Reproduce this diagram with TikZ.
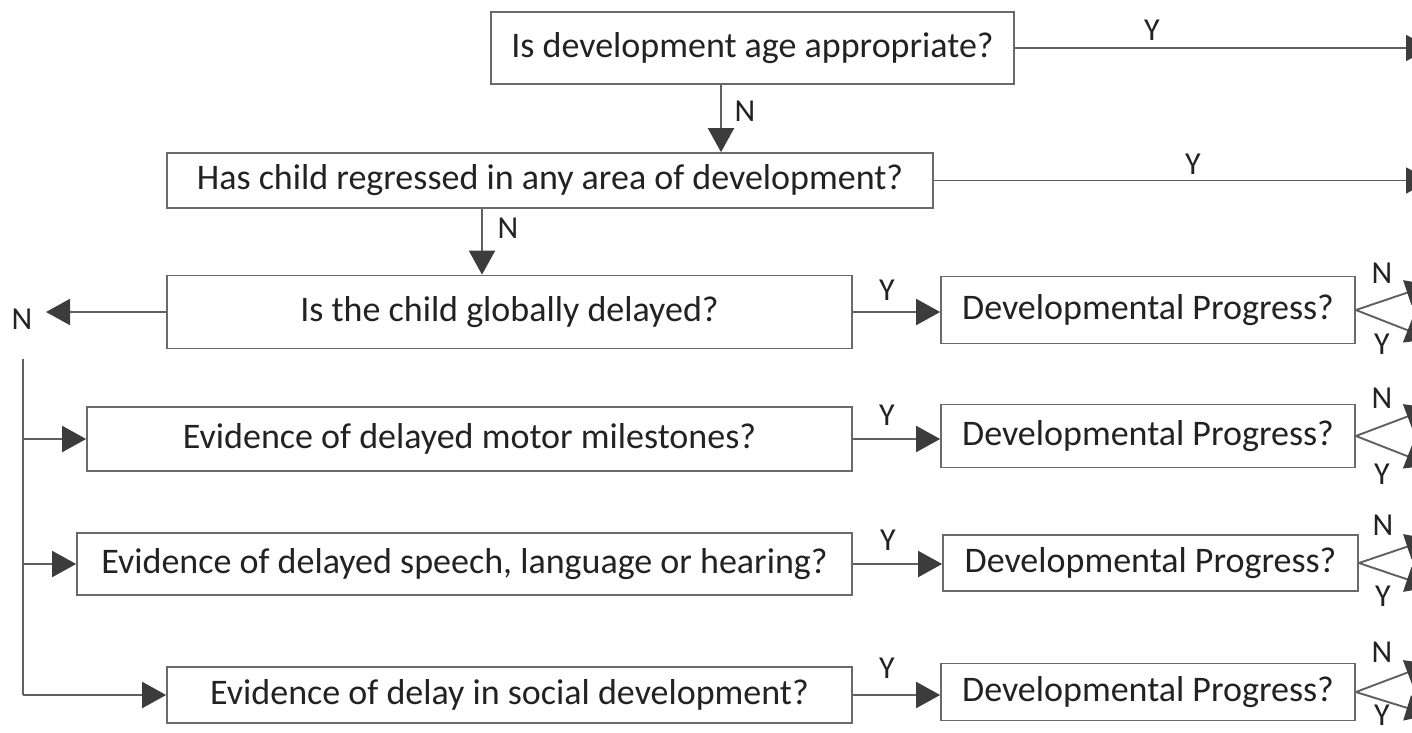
\documentclass[tikz,border=0pt]{standalone}
\usepackage{fontspec}
\setmainfont{Carlito}
\usetikzlibrary{arrows.meta}
\definecolor{boxgray}{HTML}{6A6A6A}
\definecolor{linegray}{HTML}{606060}
\definecolor{tipgray}{HTML}{3C3C3C}
\definecolor{textgray}{HTML}{222222}
\begin{document}
\begin{tikzpicture}[x=1pt,y=-1pt,
  box/.style={draw=boxgray, line width=1.7pt, inner sep=0pt, text=textgray,
    font=\fontsize{36}{40}\selectfont},
  lbl/.style={inner sep=0pt, text=textgray, font=\fontsize{32}{36}\selectfont},
  conn/.style={draw=linegray, line width=1.9pt, -{Triangle[length=24pt,width=26pt,color=tipgray]}},
  plain/.style={draw=linegray, line width=1.9pt}]
\useasboundingbox (0,0) rectangle (1412,732);
\clip (0,0) rectangle (1412,732);
% boxes
\node[box, minimum width=523pt, minimum height=72pt] (b1) at (752.5,48) {Is development age appropriate?};
\node[box, minimum width=766pt, minimum height=55pt] (b2) at (550,180.5) {Has child regressed in any area of development?};
\node[box, minimum width=685pt, minimum height=73pt] (b3) at (509.5,312) {Is the child globally delayed?};
\node[box, minimum width=765pt, minimum height=64pt] (b4) at (469.5,439) {Evidence of delayed motor milestones?};
\node[box, minimum width=775pt, minimum height=62pt] (b5) at (464.5,564) {Evidence of delayed speech, language or hearing?};
\node[box, minimum width=685pt, minimum height=56pt] (b6) at (509.5,695) {Evidence of delay in social development?};
\node[box, minimum width=414pt, minimum height=67pt] (d1) at (1148,310) {Developmental Progress?};
\node[box, minimum width=414pt, minimum height=63pt] (d2) at (1148,436) {Developmental Progress?};
\node[box, minimum width=415pt, minimum height=56pt] (d3) at (1150.5,563) {Developmental Progress?};
\node[box, minimum width=414pt, minimum height=57pt] (d4) at (1148,692) {Developmental Progress?};
% helper coordinates
\coordinate (xa) at (721,0);
\coordinate (xb) at (482,0);
\coordinate (xr) at (1430,0);
\coordinate (xl) at (46,0);
\coordinate (vt) at (23,359);
% top Y arrows
\draw[conn] (b1.east) -- (b1.east -| xr);
\node[lbl] (y1) at (1152,30) {Y};
\draw[conn] (b2.east) -- (b2.east -| xr);
\node[lbl] (y2) at (1193,164) {Y};
% N arrows down
\draw[conn] (b1.south -| xa) -- (b2.north -| xa);
\node[lbl] (n1) at (745,111) {N};
\draw[conn] (b2.south -| xb) -- (b3.north -| xb);
\node[lbl] (n2) at (508,228) {N};
% left N
\draw[conn] (b3.west) -- (b3.west -| xl);
\node[lbl] (n3) at (22,319) {N};
\draw[plain] (vt) -- (b6.west -| vt);
\draw[conn] (b4.west -| vt) -- (b4.west);
\draw[conn] (b5.west -| vt) -- (b5.west);
\draw[conn] (b6.west -| vt) -- (b6.west);
% Y to developmental progress
\draw[conn] (b3.east) -- (b3.east -| d1.west);
\node[lbl] (y3) at (887,290) {Y};
\draw[conn] (b4.east) -- (b4.east -| d2.west);
\node[lbl] (y4) at (887,415) {Y};
\draw[conn] (b5.east) -- (b5.east -| d3.west);
\node[lbl] (y5) at (888,540) {Y};
\draw[conn] (b6.east) -- (b6.east -| d4.west);
\node[lbl] (y6) at (887,668) {Y};
% fans
\coordinate (f1n) at (1430,285); \coordinate (f1y) at (1430,339);
\coordinate (f2n) at (1430,408); \coordinate (f2y) at (1430,465);
\coordinate (f3n) at (1430,539); \coordinate (f3y) at (1430,587);
\coordinate (f4n) at (1430,664); \coordinate (f4y) at (1430,715);
\draw[conn] (d1.east) -- (f1n); \draw[conn] (d1.east) -- (f1y);
\draw[conn] (d2.east) -- (f2n); \draw[conn] (d2.east) -- (f2y);
\draw[conn] (d3.east) -- (f3n); \draw[conn] (d3.east) -- (f3y);
\draw[conn] (d4.east) -- (f4n); \draw[conn] (d4.east) -- (f4y);
\node[lbl] (fn1) at (1382,273) {N}; \node[lbl] (fy1) at (1382,344) {Y};
\node[lbl] (fn2) at (1382,398) {N}; \node[lbl] (fy2) at (1382,474) {Y};
\node[lbl] (fn3) at (1383,525) {N}; \node[lbl] (fy3) at (1383,596) {Y};
\node[lbl] (fn4) at (1382,652) {N}; \node[lbl] (fy4) at (1382,715) {Y};
\end{tikzpicture}
\end{document}
